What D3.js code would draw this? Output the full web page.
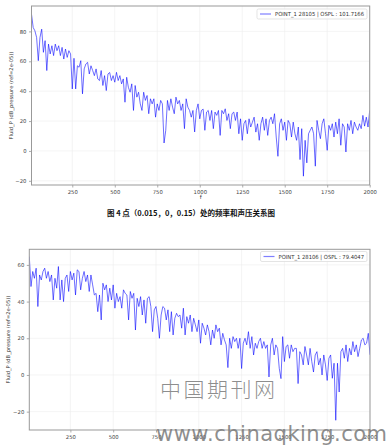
<!DOCTYPE html>
<html>
<head>
<meta charset="utf-8">
<script src="https://cdn.jsdelivr.net/npm/d3@7"></script>
<style>
  body { margin: 0; background: #fff; }
  svg { display: block; font-family: "DejaVu Sans", sans-serif; }
</style>
</head>
<body>
<svg id="chart" width="388" height="445"></svg>
<script>
// frequency bins of the spectrum (Hz)
const freq = d3.range(10, 2001, 10);

// sound pressure level at point 28105 (dB)
const spl28105 = [
  91.5, 82.6, 80.4, 76, 60.4, 76, 81.5, 66, 73.8, 53.8,
  71.5, 64.9, 70.4, 63.8, 71.5, 67.1, 70.4, 63.8, 69.3, 61.5,
  68.2, 62.6, 67.1, 64.9, 41.5, 62, 41.5, 57, 56, 60.4,
  38.2, 54.9, 58.2, 59.3, 51.5, 57, 53.8, 50.4, 54.9, 48.2,
  47.1, 53.8, 43.8, 50.4, 40.4, 51.5, 52.5, 47.1, 50.4, 46,
  52.6, 47.1, 50.4, 44.9, 48.2, 32.6, 49.3, 42.6, 39.3, 44.9,
  27.1, 43.8, 36, 39.3, 31.5, 27.1, 39.3, 33.8, 37.1, 24.9,
  34.9, 31.5, 34.9, 22.6, 31.5, 27.1, 33.8, 31.5, 5.3, 13.8,
  33.8, 27.1, 34.9, 29.3, 24.9, 36, 31.5, 33.8, 27.1, 31.5,
  14.9, 34.9, 29.3, 27.1, 22.6, 27.1, 12.7, 27.1, 31.5, 21.5,
  27.1, 28,
  13.8, 26, 27.1, 20.4, 27.1, 14.9, 26, 23.8, 27.1, 10.4,
  27.1, 24.9, 28.2, 20.4, 24.9, 14.9, 24.9, 26, 20.4, 26,
  11.5, 21.5, 7.1, 18.2, 20.4, 11.5, 21.5, 16, 19.3, 22.6,
  12.6, 18.2, 7.1, 18.2, 22.6, 13.8, 21.5, 10.4, 20.4, 22.6,
  18.2, 24.9, 9.3, -3.6, 18.2, 21.5, 13.8, 19.3, 7.1, 20.4,
  18.2, 9.3, 19.3, 11.5, 7.1, 16, -5.8, 14.9, -16.9, 7.1,
  -8, 11.5, 13.8, 16, 11.5, -10.2, 20.4, 13.8, 8.2, 18.2,
  21.5, 11.5, 0.4, 17.1, 13.8, 18.2, 9.3, 19.3, 11.5, 21.5,
  3.8, 18.2, 16, -0.7, 18.2, 13.8, 20.4, 11.5, 19.3, 16,
  13.8, 18.2, 14.9, 23.8, 16.6, 22.6, 16, 27.1
];

// sound pressure level at point 28106 (dB)
const spl28106 = [
  64.5, 48.2, 56.4, 52.7, 58.2, 37.3, 54.5, 51.8, 56.4, 58.2,
  52.7, 56.4, 50.9, 54.5, 40.9, 52.7, 47.3, 59.1, 40.9, 51.8,
  40, 52.7, 54.5, 45.5, 56.4, 51.8, 55.5, 43.6, 57.3, 56.4,
  46.4, 52.7, 56.4, 50.9, 54.5, 45.5, 54.5, 49.1, 43.6, 44.5,
  34.5, 43.6, 30, 50, 46.4, 49.1, 40, 47.3, 40.9, 49.1,
  36.4, 44.5, 40, 42.7, 36.4, 46.4, 44.5, 43.6, 30, 45.5,
  41.8, 44.5, 24.5, 41.8, 37.3, 42.7, 32.7, 40.9, 28.2, 41.8,
  42.7, 37.3, 23.6, 35.5, 37.3, 30.9, 20, 32.7, 37.3, 36.4,
  30, 35.5, 23.6, 34.5, 21.8, 30.9, 33.6, 31.8, 32.7, 25.5,
  36.4, 21.8, 31.8, 28.2, 32.7, 23.6, 30.9, 27.3, 23.6, 30,
  17.3, 28.2, 25.5, 21.8, 27.3, 23.6, 16.4, 24.5, 20, 27.3,
  23.6, 25.5, 16.4, 22.7, 19.1, 16.4, 4, 20, 14.5, 20.9,
  18.2, 20, 14.5, 20, 3.5, 17.3, 20, 16.4, 23.6, 14.5,
  20.9, 10.9, 17.3, 14.5, 18.2, 20, 14.5, 18.2, 14.5, 16.4,
  -1.1, 16.4, 20, 10.9, 16.4, 14.5, 3.6, -2, 20.9, 7.3,
  15.5, 16.4, 9.1, 16.4, 12.7, 14.5, 14.5, -4.7, 12.7, 10.9,
  5.5, 15.5, 10.9, 5.5, 14.5, 7.3, 1.6, 10.9, 12.7, 5.5,
  9.1, 0, 10.9, 5.5, -3, 9.1, 10.9, -1.8, 6.4, -24.7,
  6.4, -9.3, 12.7, 14.5, 9.1, 16.4, 7.3, 14.5, 10.9, 18.2,
  12.7, 16.4, 10, 14.5, 19.1, 20, 16.4, 17.3, 22.7, 11
];

const xTicks = [250, 500, 750, 1000, 1250, 1500, 1750, 2000];
const yTicksTop = [-20, 0, 20, 40, 60, 80];
const yTicksBottom = [-20, 0, 20, 40, 60];

const legendTop = "POINT_1 28105 | OSPL : 101.7166";
const legendBottom = "POINT_1 28106 | OSPL : 79.4047";
const yLabel = "Fluid_P (dB_pressure (ref=2e-05))";
const caption = "图 4 点（0.015，0，0.15）处的频率和声压关系图";

const svg = d3.select("#chart");

function drawPanel(cfg) {
  const x = d3.scaleLinear().domain([10, 2000]).range([cfg.left, cfg.right]);
  const y = d3.scaleLinear().domain(cfg.yDomain).range([cfg.bottom, cfg.top]);
  const g = svg.append("g");

  // light grid
  g.selectAll(".gx").data(xTicks).join("line")
    .attr("x1", d => x(d)).attr("x2", d => x(d))
    .attr("y1", cfg.top).attr("y2", cfg.bottom)
    .attr("stroke", "#ececec").attr("stroke-width", 0.6);
  g.selectAll(".gy").data(cfg.yTicks).join("line")
    .attr("x1", cfg.left).attr("x2", cfg.right)
    .attr("y1", d => y(d)).attr("y2", d => y(d))
    .attr("stroke", "#ececec").attr("stroke-width", 0.6);

  // spectrum line
  const clipId = "clip" + cfg.id;
  g.append("clipPath").attr("id", clipId).append("rect")
    .attr("x", cfg.left).attr("y", cfg.top)
    .attr("width", cfg.right - cfg.left).attr("height", cfg.bottom - cfg.top);
  g.append("path")
    .datum(cfg.values)
    .attr("clip-path", `url(#${clipId})`)
    .attr("fill", "none")
    .attr("stroke", "#0000ff")
    .attr("stroke-opacity", 0.68)
    .attr("stroke-width", 0.85)
    .attr("d", d3.line().x((d, i) => x(freq[i])).y(d => y(d)));

  // axes (plain integer labels, no thousands separator)
  const fmt = d3.format("d");
  const xAxis = g.append("g")
    .attr("transform", `translate(0,${cfg.bottom})`)
    .call(d3.axisBottom(x).tickValues(xTicks).tickFormat(fmt).tickSize(2.5).tickPadding(2.5));
  const yAxis = g.append("g")
    .attr("transform", `translate(${cfg.left},0)`)
    .call(d3.axisLeft(y).tickValues(cfg.yTicks).tickFormat(fmt).tickSize(2.5).tickPadding(2.5));
  [xAxis, yAxis].forEach(a => {
    a.select(".domain").remove();
    a.selectAll(".tick line").attr("stroke", "#888").attr("stroke-width", 0.7);
    a.selectAll(".tick text")
      .attr("fill", "#444")
      .style("font-size", "5.3px")
      .style("font-family", "DejaVu Sans");
  });

  // frame
  g.append("rect")
    .attr("x", cfg.left).attr("y", cfg.top)
    .attr("width", cfg.right - cfg.left).attr("height", cfg.bottom - cfg.top)
    .attr("fill", "none").attr("stroke", "#999").attr("stroke-width", 1);

  // y label
  g.append("text")
    .attr("transform", `translate(${cfg.ylabelX},${(cfg.top + cfg.bottom) / 2}) rotate(-90)`)
    .attr("text-anchor", "middle")
    .attr("fill", "#333")
    .style("font-size", "5.2px")
    .text(yLabel);

  if (cfg.xlabel) {
    g.append("text")
      .attr("x", (cfg.left + cfg.right) / 2).attr("y", cfg.bottom + 14)
      .attr("text-anchor", "middle").attr("fill", "#333")
      .style("font-size", "5.5px")
      .text(cfg.xlabel);
  }

  // legend
  const lg = g.append("g");
  lg.append("rect")
    .attr("x", cfg.legend.x).attr("y", cfg.legend.y)
    .attr("width", cfg.legend.w).attr("height", 10).attr("rx", 1.5)
    .attr("fill", "#fff").attr("fill-opacity", 0.85)
    .attr("stroke", "#d8d8d8").attr("stroke-width", 0.7);
  lg.append("line")
    .attr("x1", cfg.legend.x + 3).attr("x2", cfg.legend.x + 14)
    .attr("y1", cfg.legend.y + 5).attr("y2", cfg.legend.y + 5)
    .attr("stroke", "#0000ff").attr("stroke-opacity", 0.5).attr("stroke-width", 1.2);
  lg.append("text")
    .attr("x", cfg.legend.x + 18).attr("y", cfg.legend.y + 7)
    .attr("fill", "#333")
    .attr("textLength", cfg.legend.w - 21)
    .attr("lengthAdjust", "spacingAndGlyphs")
    .style("font-size", "5.6px")
    .text(cfg.label);
}

drawPanel({
  id: 1, values: spl28105, label: legendTop,
  left: 31.5, right: 369.7, top: 6, bottom: 185,
  yDomain: [-22.8, 97], yTicks: yTicksTop,
  ylabelX: 13, xlabel: "f",
  legend: { x: 257, y: 9, w: 110 }
});

drawPanel({
  id: 2, values: spl28106, label: legendBottom,
  left: 29.3, right: 370, top: 249.3, bottom: 430,
  yDomain: [-30, 68.5], yTicks: yTicksBottom,
  ylabelX: 10, xlabel: null,
  legend: { x: 260.5, y: 251.5, w: 106.5 }
});

// figure caption between the two plots
svg.append("text")
  .attr("x", 191).attr("y", 216)
  .attr("text-anchor", "middle")
  .attr("fill", "#111")
  .style("font-family", "Noto Sans CJK SC")
  .style("font-size", "7.5px")
  .style("font-weight", "bold")
  .text(caption);

// site watermark over the bottom plot
svg.append("text")
  .attr("x", 160).attr("y", 397)
  .attr("fill", "#7a7a7a").attr("fill-opacity", 0.85)
  .style("font-family", "Noto Sans CJK SC")
  .style("font-size", "21px")
  .style("font-weight", 300)
  .attr("letter-spacing", 2.5)
  .text("中国期刊网");
svg.append("text")
  .attr("x", 156).attr("y", 441)
  .attr("fill", "#7a7a7a").attr("fill-opacity", 0.85)
  .attr("textLength", 231)
  .attr("lengthAdjust", "spacing")
  .style("font-family", "DejaVu Sans")
  .style("font-size", "21px")
  .text("www.chinaqking.com");
</script>
</body>
</html>
